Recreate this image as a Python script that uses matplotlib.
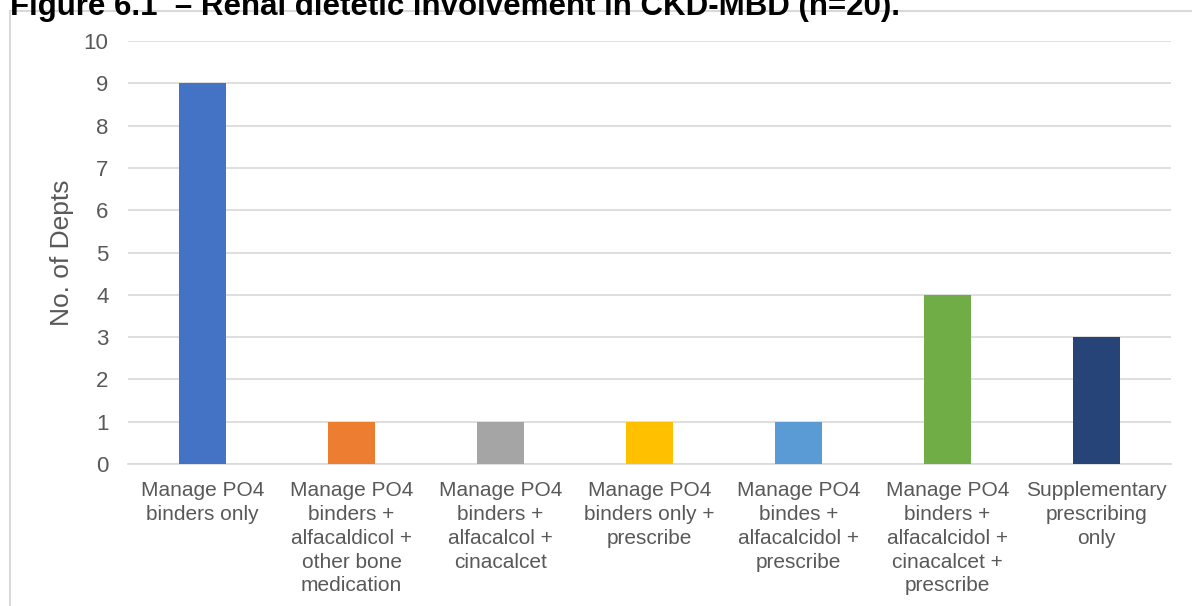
import matplotlib.pyplot as plt
from matplotlib.patches import Rectangle

# Data
categories = [
    "Manage PO4\nbinders only",
    "Manage PO4\nbinders +\nalfacaldicol +\nother bone\nmedication",
    "Manage PO4\nbinders +\nalfacalcol +\ncinacalcet",
    "Manage PO4\nbinders only +\nprescribe",
    "Manage PO4\nbindes +\nalfacalcidol +\nprescribe",
    "Manage PO4\nbinders +\nalfacalcidol +\ncinacalcet +\nprescribe",
    "Supplementary\nprescribing\nonly",
]
values = [9, 1, 1, 1, 1, 4, 3]
colors = ["#4472C4", "#ED7D31", "#A5A5A5", "#FFC000", "#5B9BD5", "#70AD47", "#264478"]
y_ticks = list(range(0, 11))

plt.rcParams['font.family'] = ['Liberation Sans', 'DejaVu Sans']
text_color = "#595959"

fig = plt.figure(figsize=(11.92, 6.06), dpi=100)

# chart area border (cropped at right and bottom)
fig.patches.append(Rectangle((10 / 1192, -0.1), 1.2, 1 - 11 / 606 + 0.1,
                             transform=fig.transFigure, fill=False,
                             edgecolor="#D9D9D9", linewidth=1.5))

# title, top half is cut off in the source image
fig.text(10 / 1192, 1 - 15 / 606, "Figure 6.1  \u2013 Renal dietetic involvement in CKD-MBD (n=20).",
         fontsize=22.5, fontweight='bold', ha='left', va='baseline', color='black')

ax = fig.add_axes([128 / 1192, 1 - 464 / 606, (1171 - 128) / 1192, (464 - 41) / 606])
x = range(len(categories))
ax.bar(x, values, width=0.32, color=colors, zorder=3)

ax.set_xlim(-0.5, len(categories) - 0.5)
ax.set_ylim(0, 10)
ax.set_yticks(y_ticks)
ax.set_xticks(list(x))
ax.set_xticklabels(categories, fontsize=15, color=text_color, linespacing=1.33)
ax.tick_params(axis='y', length=0, pad=14, labelsize=16, labelcolor=text_color)
ax.tick_params(axis='x', length=0, pad=12)

ax.grid(axis='y', color="#D9D9D9", linewidth=1.2, zorder=0)
for s in ['top', 'right', 'left']:
    ax.spines[s].set_visible(False)
ax.spines['bottom'].set_color("#D9D9D9")
ax.spines['bottom'].set_linewidth(1.2)

ax.set_ylabel("No. of Depts", fontsize=19, color=text_color, labelpad=7)

fig.savefig("out.png", dpi=100)
